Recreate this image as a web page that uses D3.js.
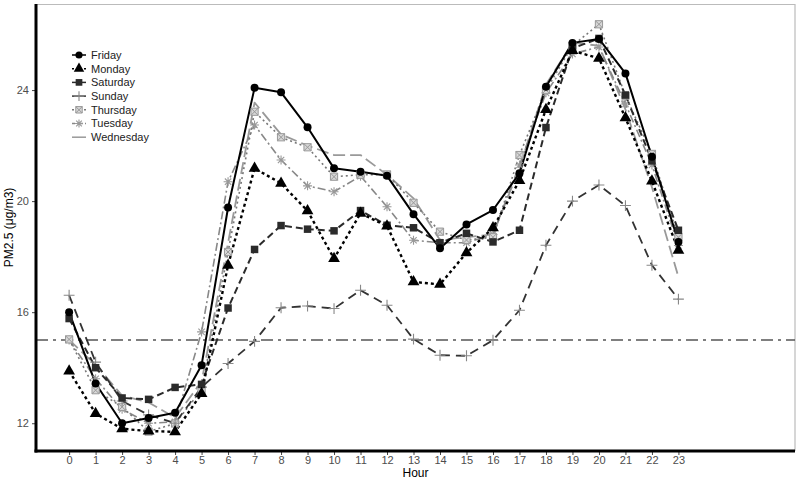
<!DOCTYPE html>
<html><head><meta charset="utf-8">
<script src="https://cdn.jsdelivr.net/npm/d3@7"></script>
<style>body{margin:0;background:#fff}svg{display:block;font-family:Arial,"Liberation Sans",sans-serif}</style>
</head><body><svg id="c" width="800" height="479"></svg>
<script>
const hours = d3.range(0,24);
const hourLabels = hours.map(String);
const yTicks = [12,16,20,24];
const refValue = 15;
const seriesNames = ["Friday","Monday","Saturday","Sunday","Thursday","Tuesday","Wednesday"];
const friday    = [16.0,13.43,12.0,12.19,12.38,14.09,19.77,24.08,23.92,22.66,21.18,21.06,20.91,19.53,18.3,19.16,19.68,21.0,24.12,25.7,25.84,24.6,21.6,18.53];
const monday    = [13.88,12.35,11.8,11.72,11.69,13.07,17.69,21.18,20.64,19.65,17.93,19.56,19.1,17.09,17.0,18.14,19.04,20.74,23.3,25.42,25.14,23.0,20.72,18.23];
const saturday  = [15.77,14.0,12.91,12.86,13.29,13.4,16.15,18.26,19.12,18.99,18.93,19.66,19.13,19.04,18.5,18.84,18.53,18.95,22.65,25.5,25.86,23.82,21.45,18.95];
const sunday    = [16.61,14.2,12.8,12.3,12.0,13.3,14.15,14.95,16.16,16.22,16.13,16.79,16.25,15.03,14.45,14.43,14.99,16.07,18.41,20.0,20.58,19.84,17.69,16.47];
const thursday  = [15.02,13.19,12.59,11.7,11.99,13.2,18.17,23.22,22.3,21.94,20.88,20.95,20.96,19.94,18.9,18.6,18.7,21.66,24.0,25.6,26.37,23.8,21.7,18.7];
const tuesday   = [15.0,13.6,12.5,12.0,12.05,15.29,20.7,22.74,21.48,20.55,20.34,20.9,19.8,18.59,18.5,18.5,18.8,21.3,23.9,25.3,25.55,23.5,21.3,18.4];
const wednesday = [15.0,14.1,13.0,12.75,12.2,13.5,18.5,23.55,22.4,22.0,21.66,21.66,20.95,20.1,18.6,18.7,18.8,21.2,24.2,25.7,25.6,23.3,20.5,17.27];
const seriesValues = [friday,monday,saturday,sunday,thursday,tuesday,wednesday];

const styles = {
  Friday:   {color:"#000", dash:null, width:2, marker:"circle", fill:"#000", size:50},
  Monday:   {color:"#000", dash:"3,3", width:2.4, marker:"triangle", fill:"#000", size:60},
  Saturday: {color:"#2b2b2b", dash:"7,4", width:2, marker:"square", fill:"#2b2b2b", size:56},
  Sunday:   {color:"#333", dash:"9,6", width:1.8, marker:"plus", fill:"#888", size:70},
  Thursday: {color:"#777", dash:"2,3", width:1.6, marker:"xsquare", fill:"#999", size:52},
  Tuesday:  {color:"#888", dash:"8,3,2,3", width:1.6, marker:"asterisk", fill:"#999", size:56},
  Wednesday:{color:"#999", dash:"12,5", width:1.8, marker:"none", fill:"#999", size:0}
};

(function(){
const svg = d3.select("#c");
const mL=36,mR=795,mT=4,mB=451;
const x = d3.scaleLinear().domain([-1.25,27.4]).range([mL,mR]);
const y = d3.scaleLinear().domain([11,27.1]).range([mB,mT]);

svg.append("line").attr("x1",mL).attr("x2",mR).attr("y1",mT+0.5).attr("y2",mT+0.5).attr("stroke","#bbb").attr("stroke-width",1.2);
svg.append("line").attr("x1",mR).attr("x2",mR).attr("y1",mT).attr("y2",mB).attr("stroke","#bbb").attr("stroke-width",1.2);

svg.append("line").attr("x1",mL).attr("x2",mR).attr("y1",y(refValue)).attr("y2",y(refValue))
  .attr("stroke","#555").attr("stroke-width",1.6).attr("stroke-dasharray","12,5,3,5");

function markerPath(type,size){
  const r=Math.sqrt(size)/2;
  if(type==="circle") return d3.symbol(d3.symbolCircle,size)();
  if(type==="triangle") return d3.symbol(d3.symbolTriangle,size)();
  if(type==="square") return d3.symbol(d3.symbolSquare,size)();
  if(type==="plus") return `M${-r*1.3},0L${r*1.3},0M0,${-r*1.3}L0,${r*1.3}`;
  if(type==="xsquare") return `M${-r},${-r}L${r},${-r}L${r},${r}L${-r},${r}Z M${-r},${-r}L${r},${r}M${r},${-r}L${-r},${r}`;
  if(type==="asterisk") return `M${-r*1.2},0L${r*1.2},0M0,${-r*1.2}L0,${r*1.2}M${-r*0.85},${-r*0.85}L${r*0.85},${r*0.85}M${r*0.85},${-r*0.85}L${-r*0.85},${r*0.85}`;
  return "";
}
function drawMarker(g,type,st){
  const p=g.append("path").attr("d",markerPath(type,st.size));
  if(type==="plus"||type==="asterisk"){p.attr("fill","none").attr("stroke",st.fill).attr("stroke-width",1.1);}
  else if(type==="xsquare"){p.attr("fill","#d8d8d8").attr("stroke",st.fill).attr("stroke-width",1);}
  else p.attr("fill",st.fill);
}

const line = d3.line().x((d,i)=>x(hours[i])).y(d=>y(d));
const order=["Wednesday","Tuesday","Thursday","Sunday","Saturday","Monday","Friday"];
order.forEach(name=>{
  const i=seriesNames.indexOf(name);const vals=seriesValues[i];const st=styles[name];
  svg.append("path").datum(vals).attr("d",line).attr("fill","none").attr("stroke",st.color)
    .attr("stroke-width",st.width).attr("stroke-dasharray",st.dash).attr("stroke-linejoin","round");
});
order.forEach(name=>{
  const i=seriesNames.indexOf(name);const vals=seriesValues[i];const st=styles[name];
  if(st.marker==="none") return;
  vals.forEach((v,j)=>{
    const g=svg.append("g").attr("transform",`translate(${x(hours[j])},${y(v)})`);
    drawMarker(g,st.marker,st);
  });
});

const xAxis=d3.axisBottom(x).tickValues(hours).tickFormat((d,i)=>hourLabels[i]).tickSize(4).tickSizeOuter(0);
const gx=svg.append("g").attr("transform",`translate(0,${mB})`).call(xAxis);
gx.select(".domain").remove();
gx.selectAll("line").attr("stroke","#444");
gx.selectAll("text").attr("fill","#4d4d4d").attr("font-size",11).attr("y",5);
const yAxis=d3.axisLeft(y).tickValues(yTicks).tickSize(4).tickSizeOuter(0);
const gy=svg.append("g").attr("transform",`translate(${mL},0)`).call(yAxis);
gy.select(".domain").remove();
gy.selectAll("line").attr("stroke","#444");
gy.selectAll("text").attr("fill","#4d4d4d").attr("font-size",11);
svg.append("line").attr("x1",mL).attr("x2",mL).attr("y1",mT).attr("y2",mB+1.5).attr("stroke","#000").attr("stroke-width",3);
svg.append("line").attr("x1",mL-1.5).attr("x2",mR).attr("y1",mB).attr("y2",mB).attr("stroke","#000").attr("stroke-width",3);

svg.append("text").attr("x",(mL+mR)/2).attr("y",477).attr("text-anchor","middle").attr("font-size",12).attr("fill","#000").text("Hour");
svg.append("text").attr("transform",`translate(13,${(mT+mB)/2}) rotate(-90)`).attr("text-anchor","middle").attr("font-size",12).attr("fill","#000").text("PM2.5 (μg/m3)");

const lg=svg.append("g");
seriesNames.forEach((name,i)=>{
  const st=styles[name];
  const yy=55+i*13.7;
  const g=lg.append("g").attr("transform",`translate(79,${yy})`);
  g.append("line").attr("x1",-7).attr("x2",7).attr("y1",0).attr("y2",0).attr("stroke",st.color).attr("stroke-width",1.5)
    .attr("stroke-dasharray",name==="Monday"||name==="Thursday"?"2,2":(name==="Tuesday"?"3,2,1,2":null));
  if(st.marker!=="none"){drawMarker(g,st.marker,{...st,size:st.size*0.8});}
  lg.append("text").attr("x",91).attr("y",yy).attr("dy","0.35em").attr("font-size",11).attr("fill","#222").text(name);
});
})();
</script></body></html>
